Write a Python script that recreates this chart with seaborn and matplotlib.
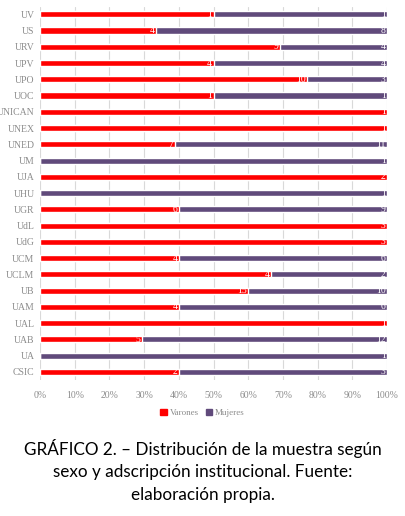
import numpy as np
import pandas as pd
import matplotlib
matplotlib.use('Agg')
import matplotlib.pyplot as plt
from matplotlib.patches import Patch
import seaborn as sns

# Data (top to bottom)
universidades = ['UV', 'US', 'URV', 'UPV', 'UPO', 'UOC', 'UNICAN', 'UNEX', 'UNED', 'UM',
                 'UJA', 'UHU', 'UGR', 'UdL', 'UdG', 'UCM', 'UCLM', 'UB', 'UAM', 'UAL',
                 'UAB', 'UA', 'CSIC']
varones = [1, 4, 9, 4, 10, 1, 1, 1, 7, 0, 2, 0, 6, 3, 3, 4, 4, 15, 4, 1, 5, 0, 2]
mujeres = [1, 8, 4, 4, 3, 1, 0, 0, 11, 1, 0, 1, 9, 0, 0, 6, 2, 10, 6, 0, 12, 1, 3]

rojo = '#FF0000'
morado = '#604A7B'

df = pd.DataFrame({'Universidad': universidades, 'Varones': varones, 'Mujeres': mujeres})
df['Total'] = df['Varones'] + df['Mujeres']
df['pct_v'] = df['Varones'] / df['Total'] * 100
df['pct_total'] = 100.0

sns.set_style('white')
plt.rcParams['font.family'] = ['Liberation Serif', 'DejaVu Serif']

fig = plt.figure(figsize=(4.05, 5.16), dpi=100)
ax = fig.add_axes([0.0988, 0.2636, 0.8568, 0.7228])

# Mujeres = full bar, Varones drawn on top
sns.barplot(data=df, x='pct_total', y='Universidad', color=morado, orient='h',
            width=0.38, saturation=1, ax=ax, zorder=3)
sns.barplot(data=df, x='pct_v', y='Universidad', color=rojo, orient='h',
            width=0.38, saturation=1, ax=ax, zorder=4)

for i, row in df.iterrows():
    if row['Varones'] > 0:
        ax.text(row['pct_v'] - 0.4, i, str(row['Varones']), ha='right', va='center',
                color='white', fontsize=7, zorder=5)
    if row['Mujeres'] > 0:
        ax.text(99.6, i, str(row['Mujeres']), ha='right', va='center',
                color='white', fontsize=7, zorder=5)

ax.set_xlim(0, 100)
ax.set_ylim(22.5, -0.45)
ax.set_xticks(np.arange(0, 101, 10))
ax.set_xticklabels([f'{t}%' for t in range(0, 101, 10)])
ax.grid(axis='x', color='#D9D9D9', linewidth=0.8, zorder=0)
ax.set_axisbelow(True)
for s in ax.spines.values():
    s.set_visible(False)
ax.tick_params(axis='both', length=0, labelsize=7, labelcolor='#8C8C8C')
ax.tick_params(axis='x', pad=8)
ax.tick_params(axis='y', pad=4)
ax.set_xlabel('')
ax.set_ylabel('')

handles = [Patch(color=rojo, label='Varones'), Patch(color=morado, label='Mujeres')]
leg = fig.legend(handles=handles, loc='center', bbox_to_anchor=(0.5, 0.199), ncol=2,
                 frameon=False, fontsize=6.5, handlelength=0.7, handleheight=0.7,
                 handletextpad=0.3, columnspacing=0.8)
for t in leg.get_texts():
    t.set_color('#8C8C8C')

caption = ['GRÁFICO 2. – Distribución de la muestra según',
           'sexo y adscripción institucional. Fuente:',
           'elaboración propia.']
for k, line in enumerate(caption):
    fig.text(0.5, 1 - (449 + 23 * k) / 516, line, ha='center', va='center',
             fontsize=12.3, family=['Lato', 'DejaVu Sans'], color='black')

fig.savefig('out.png', dpi=100)
